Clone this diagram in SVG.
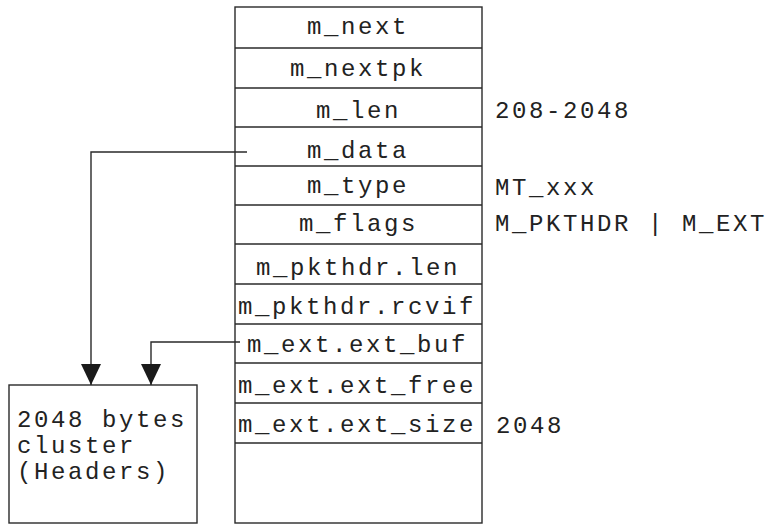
<svg xmlns="http://www.w3.org/2000/svg" width="769" height="525" viewBox="0 0 769 525">
  <style>
    .box { fill: #ffffff; stroke: #2a2a2a; stroke-width: 1.4; }
    .sep { stroke: #2a2a2a; stroke-width: 1.4; }
    .wire { fill: none; stroke: #2a2a2a; stroke-width: 1.4; }
    .t { font-family: "Liberation Mono", "Courier New", monospace; font-size: 24px; letter-spacing: 2.6px; fill: #222222; }
  </style>
  <defs>
    <!-- filled triangle head, drawn along +x so orient="auto" turns it with the wire -->
    <marker id="arrow" viewBox="0 0 21 20" refX="21" refY="10" markerWidth="21" markerHeight="20" markerUnits="userSpaceOnUse" orient="auto">
      <path d="M0,0 L21,10 L0,20 Z" fill="#1a1a1a"/>
    </marker>
  </defs>
  <rect width="769" height="525" fill="#ffffff"/>

  <!-- mbuf structure -->
  <g id="mbuf">
    <rect class="box" x="235" y="7" width="247" height="516"/>
    <line class="sep" x1="235" y1="48" x2="482" y2="48"/>
    <line class="sep" x1="235" y1="88" x2="482" y2="88"/>
    <line class="sep" x1="235" y1="127" x2="482" y2="127"/>
    <line class="sep" x1="235" y1="166" x2="482" y2="166"/>
    <line class="sep" x1="235" y1="205" x2="482" y2="205"/>
    <line class="sep" x1="235" y1="244" x2="482" y2="244"/>
    <line class="sep" x1="235" y1="284" x2="482" y2="284"/>
    <line class="sep" x1="235" y1="324" x2="482" y2="324"/>
    <line class="sep" x1="235" y1="363" x2="482" y2="363"/>
    <line class="sep" x1="235" y1="403" x2="482" y2="403"/>
    <line class="sep" x1="235" y1="443" x2="482" y2="443"/>
    <text class="t" x="307" y="34">m_next</text>
    <text class="t" x="290" y="76">m_nextpk</text>
    <text class="t" x="316" y="118">m_len</text>
    <text class="t" x="307" y="158">m_data</text>
    <text class="t" x="307" y="193">m_type</text>
    <text class="t" x="299" y="231">m_flags</text>
    <text class="t" x="256" y="275">m_pkthdr.len</text>
    <text class="t" x="238" y="314">m_pkthdr.rcvif</text>
    <text class="t" x="247" y="352">m_ext.ext_buf</text>
    <text class="t" x="238" y="393">m_ext.ext_free</text>
    <text class="t" x="238" y="432">m_ext.ext_size</text>
  </g>

  <!-- field values -->
  <g id="values">
    <text class="t" x="495" y="118">208-2048</text>
    <text class="t" x="495" y="195">MT_xxx</text>
    <text class="t" x="495" y="231">M_PKTHDR | M_EXT</text>
    <text class="t" x="496" y="433">2048</text>
  </g>

  <!-- external cluster -->
  <g id="cluster">
    <rect class="box" x="9" y="385" width="188" height="138"/>
    <text class="t" x="17" y="427">2048 bytes</text>
    <text class="t" x="17" y="453">cluster</text>
    <text class="t" x="17" y="479">(Headers)</text>
  </g>

  <!-- pointers into the cluster -->
  <g id="connectors">
    <path class="wire" d="M247,152 H91 V385" marker-end="url(#arrow)"/>
    <path class="wire" d="M240,342 H151 V385" marker-end="url(#arrow)"/>
  </g>
</svg>
